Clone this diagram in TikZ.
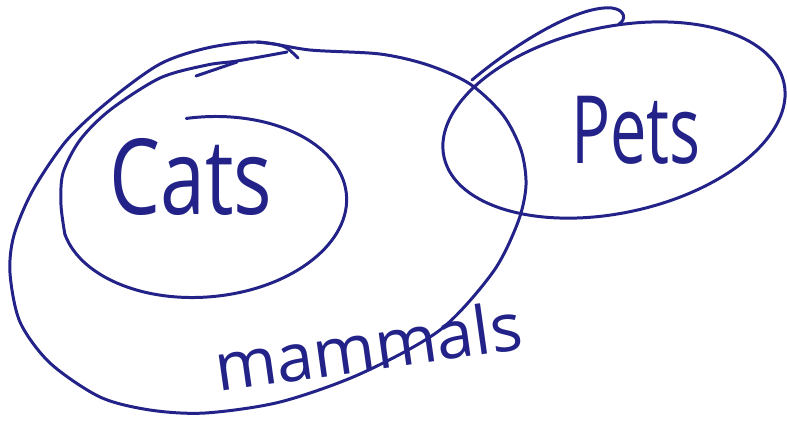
\documentclass[tikz,border=0pt]{standalone}
\usepackage{fontspec}
\IfFontExistsTF{FiraSans-Light.otf}{\setmainfont{FiraSans-Light.otf}}{\setmainfont{Open Sans}}
\definecolor{penblue}{RGB}{34,34,136}
\tikzset{
  % pen strokes
  pen/.style = {
    draw=penblue,
    line width=1.7pt,
    line cap=round,
    line join=round,
  },
  % handwritten set names
  set label/.style = {
    text=penblue,
    inner sep=0pt,
  },
}
\begin{document}
\begin{tikzpicture}[x=0.02cm, y=-0.02cm]
  \useasboundingbox (0,0) rectangle (787,424);
  \coordinate (cats c) at (204,207);
  \coordinate (pets c) at (614,120);
  % mammals: one big loop
  \draw[pen] plot[smooth cycle] coordinates {
    (257,42) (310,50) (380,54) (428,65) (470,84) (503,115) (521,150) (526,185)
    (518,222) (493,272) (440,330) (360,374) (280,402) (205,413) (150,410)
    (100,397) (50,363) (20,322) (10,273) (14,235) (33,190) (67,140) (110,100)
    (160,64) (207,48)};
  \draw[pen] (257,42) .. controls (285,45) .. (298,58);
  % cats: open at the top left, runs on beside mammals
  \draw[pen, rotate around={5:(cats c)}] (cats c) ++(94:2.86cm and 1.8cm)
    arc[start angle=94, end angle=-170, x radius=2.86cm, y radius=1.8cm];
  \draw[pen] plot[smooth] coordinates {(65,235) (61,205) (63,173) (80,140) (110,110)
    (160,78) (207,65) (237,61) (287,52)};
  \draw[pen] (196,76) -- (237,62);
  % pets
  \draw[pen, rotate around={12.3:(pets c)}] (pets c) ellipse [x radius=3.48cm, y radius=1.86cm];
  \draw[pen] (472,80) .. controls (520,40) and (580,5) .. (612,8) .. controls (626,10) and (626,20) .. (619,24);
  % labels
  \node[set label, yscale=1.3, transform shape] (cats) at (191,177) {\fontsize{46}{46}\selectfont Cats};
  \node[set label, yscale=1.45, transform shape] (pets) at (636,130) {\fontsize{37}{37}\selectfont Pets};
  \node[set label, rotate=8, anchor=base west] (mammals) at (218,392) {\fontsize{38}{38}\selectfont mammals};
\end{tikzpicture}
\end{document}
